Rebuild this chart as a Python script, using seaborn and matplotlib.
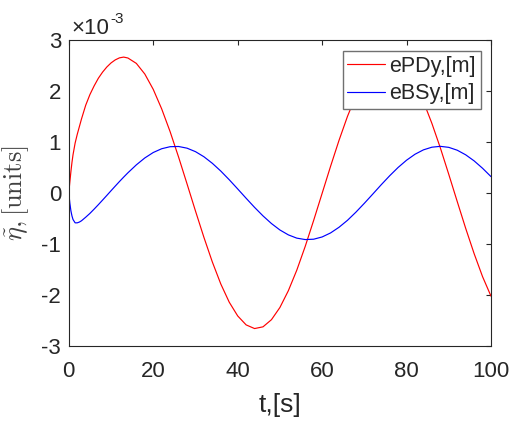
import matplotlib
matplotlib.use("Agg")
import matplotlib.pyplot as plt
import numpy as np
import pandas as pd
import seaborn as sns
from matplotlib.ticker import FuncFormatter, FixedLocator

# time samples [s]
t = [0, 0.25, 0.5, 0.75, 1, 1.5, 2, 2.5, 3,
     4, 5, 6, 7, 8, 9, 10, 11, 12, 13,
     14, 16, 18, 20, 22, 24, 26, 28, 30, 32, 34, 36, 38, 40, 42, 44,
     46, 48, 50, 52, 54, 56, 58, 60, 62, 64, 66, 68, 70, 72, 74, 76,
     78, 80, 82, 84, 86, 88, 90, 92, 94, 96, 98, 100]

# tracking errors, in units of 1e-3 m
epdy = [0.0, 0.22, 0.42, 0.60, 0.75, 0.98, 1.15, 1.30, 1.45,
        1.72, 1.93, 2.10, 2.25, 2.37, 2.47, 2.55, 2.61, 2.65, 2.665,
        2.647, 2.541, 2.333, 2.032, 1.649, 1.202, 0.705, 0.180, -0.352, -0.869,
        -1.353, -1.784, -2.141, -2.410, -2.586, -2.658,
        -2.624, -2.484, -2.245, -1.916, -1.513, -1.046, -0.536, -0.007, 0.523,
        1.032, 1.501, 1.908, 2.241, 2.479, 2.621, 2.659,
        2.590, 2.417, 2.147, 1.792, 1.365, 0.885, 0.365, -0.167, -0.692,
        -1.188, -1.640, -2.023]

ebsy = [0.0, -0.20, -0.35, -0.45, -0.52, -0.585, -0.585, -0.57, -0.545,
        -0.475, -0.40, -0.316, -0.229, -0.139, -0.048, 0.044, 0.135, 0.225, 0.312,
        0.396, 0.552, 0.687, 0.794, 0.868, 0.908, 0.912, 0.879, 0.811, 0.711,
        0.582, 0.430, 0.260, 0.080, -0.103, -0.282,
        -0.449, -0.599, -0.725, -0.821, -0.885, -0.913, -0.906, -0.862, -0.783,
        -0.672, -0.536, -0.376, -0.202, -0.021, 0.162, 0.338,
        0.501, 0.643, 0.760, 0.846, 0.898, 0.915, 0.895, 0.839, 0.749,
        0.630, 0.485, 0.321]

series_names = ["ePDy,[m]", "eBSy,[m]"]
series_colors = ["#ff0000", "#0000ff"]
x_ticks = [0, 20, 40, 60, 80, 100]
y_ticks = [-3, -2, -1, 0, 1, 2, 3]
scale = 1e-3

sns.set_theme(style="white")
plt.rcParams["font.family"] = ["Liberation Sans", "DejaVu Sans"]
plt.rcParams["axes.unicode_minus"] = False

df = pd.DataFrame({"t": t, series_names[0]: epdy, series_names[1]: ebsy})
long = df.melt(id_vars="t", var_name="series", value_name="err")
long["err"] = long["err"] * scale

W, H = 512, 421
fig = plt.figure(figsize=(W / 100, H / 100), dpi=100)
ax_l, ax_r, ax_t, ax_b = 68.8, 491.0, 40.0, 346.0
ax = fig.add_axes([ax_l / W, 1 - ax_b / H, (ax_r - ax_l) / W, (ax_b - ax_t) / H])

sns.lineplot(data=long, x="t", y="err", hue="series",
             palette=dict(zip(series_names, series_colors)),
             linewidth=0.85, estimator=None, sort=False, legend=False, ax=ax)

ax.set_xlim(0, 100)
ax.set_ylim(-3 * scale, 3 * scale)
ax.xaxis.set_major_locator(FixedLocator(x_ticks))
ax.yaxis.set_major_locator(FixedLocator([v * scale for v in y_ticks]))
ax.yaxis.set_major_formatter(FuncFormatter(lambda v, p: f"{round(v / scale):d}"))

dark = "#262626"
for s in ax.spines.values():
    s.set_visible(True)
    s.set_color(dark)
    s.set_linewidth(0.8)
ax.tick_params(direction="in", length=3.4, width=0.8, top=True, right=True,
               colors=dark, labelsize=16)
ax.tick_params(axis="x", pad=11)
ax.tick_params(axis="y", pad=5.5)

ax.set_xlabel("t,[s]", fontsize=19, color=dark)
ax.xaxis.set_label_coords(0.5, -0.155)
ax.set_ylabel(r"$\tilde{\eta},[\mathrm{units}]$", fontsize=19, color="#404040",
              math_fontfamily="cm")
ax.yaxis.set_label_coords(-0.09, 0.5)

# axis multiplier
fig.text(71.7 / W, 1 - 34.3 / H, "×10", fontsize=16, color=dark, va="baseline")
fig.text(110.0 / W, 1 - 22.7 / H, "-3", fontsize=11, color=dark, va="baseline")

handles = ax.get_lines()[:2]
leg = ax.legend(handles, series_names, loc="upper right",
                bbox_to_anchor=((480.7 - ax_l) / (ax_r - ax_l), 1 - (51 - ax_t) / (ax_b - ax_t)),
                borderaxespad=0, fontsize=15.5, frameon=True, fancybox=False,
                framealpha=1, edgecolor="#707070", handlelength=1.75,
                handletextpad=0.2, borderpad=0.22, labelspacing=0.3)
leg.get_frame().set_linewidth(1.0)

fig.savefig("out.png", dpi=100)
